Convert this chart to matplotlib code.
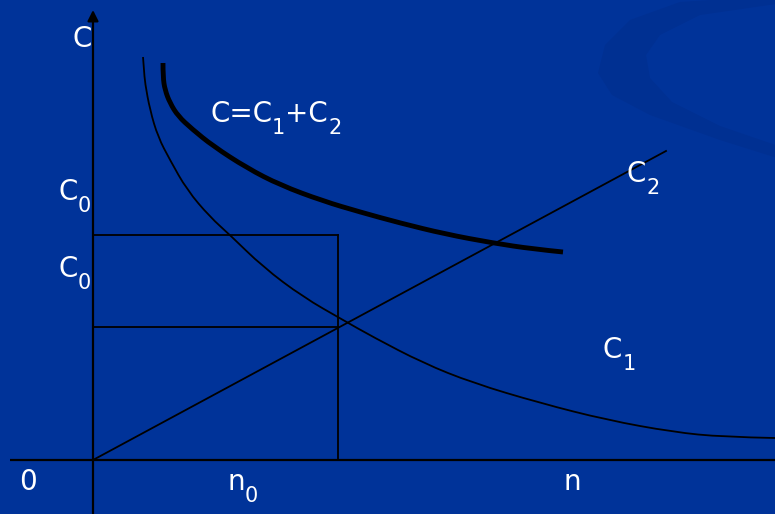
import numpy as np
import matplotlib
matplotlib.use("Agg")
import matplotlib.pyplot as plt
from matplotlib.patches import Polygon, PathPatch
from matplotlib.path import Path
from matplotlib.transforms import offset_copy

# colours
BG = "#003399"
SWIRL = "#003092"

# schematic values, origin of the chart at (0, 0)
n0 = 245
c0_high = 225
c0_low = 133

# C2 (straight line through origin)
c2_n = [0, 573]
c2_c = [0, 309]

# C1 (thin decreasing curve)
c1_n = [50, 51, 52, 57, 65, 77, 94, 117, 137, 170, 210, 250, 280, 330, 380, 447, 514, 580, 630, 682]
c1_c = [403, 390, 377, 350, 323, 300, 270, 243, 225, 193, 163, 140, 123, 97, 77, 57, 40, 28, 23, 22]

# C = C1 + C2 (thick curve)
c_n = [70, 70, 72, 77, 85, 99, 120, 154, 187, 230, 267, 307, 352, 400, 440, 470]
c_c = [397, 383, 370, 357, 344, 331, 314, 292, 275, 259, 248, 237, 226, 217, 211, 208]

# labels: list of (text, is_subscript) parts, left/baseline position
labels = [
    ([("C", False)], -21, 413),
    ([("C", False), ("0", True)], -35, 260),
    ([("C", False), ("0", True)], -35, 183),
    ([("C=C", False), ("1", True), ("+C", False), ("2", True)], 117, 338),
    ([("C", False), ("2", True)], 534, 278),
    ([("C", False), ("1", True)], 510, 102),
    ([("0", False)], -74, -30),
    ([("n", False), ("0", True)], 134, -30),
    ([("n", False)], 471, -30),
]

plt.rcParams['font.family'] = ['DejaVu Sans']


def smooth_path(xs, ys):
    # quadratic bezier through midpoints of the read points
    pts = np.column_stack([xs, ys]).astype(float)
    verts = [pts[0]]
    codes = [Path.MOVETO]
    for i in range(1, len(pts) - 1):
        end = pts[i + 1] if i == len(pts) - 2 else (pts[i] + pts[i + 1]) / 2
        verts += [pts[i], end]
        codes += [Path.CURVE3, Path.CURVE3]
    return Path(verts, codes)


def put_label(ax, fig, renderer, parts, x, y):
    dx = 0.0
    for s, sub in parts:
        size = 15 if sub else 20
        dy = -12 if sub else 0
        tr = offset_copy(ax.transData, fig=fig, x=dx, y=dy, units="dots")
        t = ax.text(x, y, s, color="white", fontsize=size, ha="left",
                    va="baseline", transform=tr)
        dx += t.get_window_extent(renderer).width


fig = plt.figure(figsize=(7.75, 5.14), dpi=100, facecolor=BG)
ax = fig.add_axes([0, 0, 1, 1])
ax.set_facecolor(BG)
ax.set_xlim(-93, 682)
ax.set_ylim(-54, 460)
ax.axis("off")

# faint swirl in the background (figure pixels, top-left origin)
outer = [(790, -5), (680, 2), (630, 20), (605, 45), (598, 73), (612, 95),
         (650, 115), (720, 140), (790, 162)]
inner = [(790, 150), (720, 126), (672, 102), (650, 78), (646, 55),
         (660, 35), (700, 15), (790, 2)]
pts = [(x / 775, 1 - y / 514) for x, y in outer + inner]
fig.patches.append(Polygon(pts, closed=True, transform=fig.transFigure,
                           facecolor=SWIRL, edgecolor="none", zorder=0))

# axes
ax.plot([-83, 682], [0, 0], color="k", lw=1.6, solid_capstyle="butt")
ax.annotate("", xy=(0, 450), xytext=(0, -54),
            arrowprops=dict(arrowstyle="-|>", color="k", lw=1.6,
                            mutation_scale=16, shrinkA=0, shrinkB=0))

# n0 / C0 guide lines
ax.plot([0, n0], [c0_high, c0_high], color="k", lw=1.3)
ax.plot([n0, n0], [c0_high, 0], color="k", lw=1.3)
ax.plot([0, n0], [c0_low, c0_low], color="k", lw=1.3)

# curves
ax.plot(c2_n, c2_c, color="k", lw=1.3)
ax.add_patch(PathPatch(smooth_path(c1_n, c1_c), fill=False, edgecolor="k",
                       lw=1.3, capstyle="butt"))
ax.add_patch(PathPatch(smooth_path(c_n, c_c), fill=False, edgecolor="k",
                       lw=3.5, capstyle="butt"))

renderer = fig.canvas.get_renderer()
for parts, x, y in labels:
    put_label(ax, fig, renderer, parts, x, y)

fig.savefig("out.png", dpi=100, facecolor=BG)
